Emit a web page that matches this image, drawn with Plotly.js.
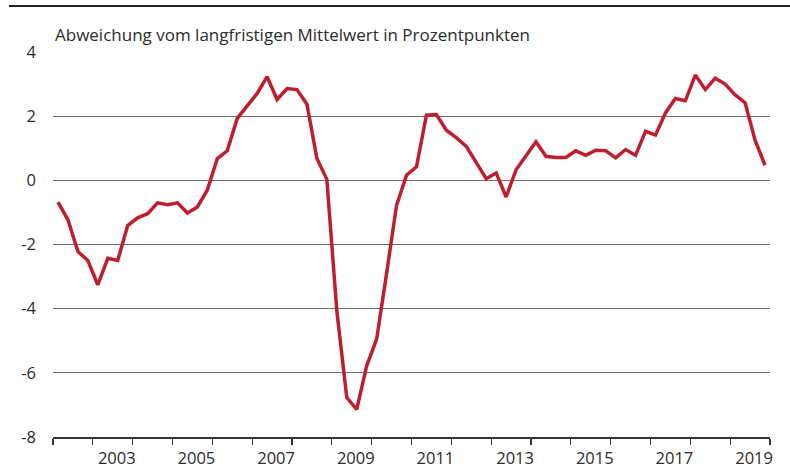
<!DOCTYPE html>
<html>
<head>
<meta charset="utf-8">
<script src="https://cdn.plot.ly/plotly-3.0.1.min.js"></script>
<style>html,body{margin:0;padding:0;background:#fff;}#chart{width:790px;height:470px;}</style>
</head>
<body>
<div id="chart"></div>
<script>
// Quarterly data, 2002 Q1 - 2019 Q4
const startYear = 2002;
const values = [
  -0.68, -1.23, -2.22, -2.50, -3.26, -2.43, -2.50, -1.41,
  -1.17, -1.04, -0.70, -0.76, -0.70, -1.02, -0.83, -0.30,
   0.68,  0.92,  1.93,  2.34,  2.71,  3.23,  2.52,  2.86,
   2.83,  2.37,  0.68,  0.03, -4.06, -6.77, -7.14, -5.78,
  -4.95, -2.90, -0.78,  0.16,  0.42,  2.03,  2.05,  1.56,
   1.33,  1.06,  0.57,  0.05,  0.23, -0.52,  0.33,  0.75,
   1.20,  0.75,  0.71,  0.71,  0.92,  0.78,  0.94,  0.92,
   0.70,  0.96,  0.78,  1.53,  1.41,  2.10,  2.55,  2.48,
   3.28,  2.83,  3.18,  3.00,  2.66,  2.42,  1.25,  0.47
];
const yTicks = [-8, -6, -4, -2, 0, 2, 4];
const yTickLabels = ["-8", "-6", "-4", "-2", "0", "2", "4"];
const xLabelYears = [2003, 2005, 2007, 2009, 2011, 2013, 2015, 2017, 2019];
const titleText = "Abweichung vom langfristigen Mittelwert in Prozentpunkten";

// quarter midpoints as decimal years
const xs = values.map((v, i) => startYear + (i + 0.5) / 4);
const endYear = startYear + values.length / 4;
const yearBoundaries = [];
for (let y = startYear; y <= endYear; y++) yearBoundaries.push(y);

const FONT = "'Open Sans', 'Noto Sans', sans-serif";
const TXT = "#2b2b2b";

const trace = {
  x: xs, y: values, type: "scatter", mode: "lines",
  line: {color: "#bf1e2e", width: 3.5},
  hoverinfo: "skip", showlegend: false
};
const labelTrace = {x: [xs[0]], y: [values[0]], xaxis: "x2", type: "scatter", mode: "none", showlegend: false, hoverinfo: "skip"};

const layout = {
  width: 790, height: 470,
  margin: {l: 53, r: 20, t: 52, b: 33},
  paper_bgcolor: "#ffffff", plot_bgcolor: "#ffffff",
  font: {family: FONT, size: 16, color: TXT},
  title: {
    text: titleText, font: {family: FONT, size: 17, color: TXT},
    xref: "container", yref: "container", x: 55/790, xanchor: "left",
    y: 1 - 35/470, yanchor: "middle"
  },
  xaxis: {
    range: [startYear, endYear], tickmode: "array", tickvals: yearBoundaries,
    ticktext: yearBoundaries.map(() => ""), ticks: "outside", ticklen: 6,
    tickcolor: "#333", tickwidth: 1.3, showgrid: false, zeroline: false,
    showline: true, linecolor: "#333", linewidth: 1.5, fixedrange: true
  },
  xaxis2: {
    overlaying: "x", anchor: "y", side: "bottom",
    range: [startYear, endYear], tickmode: "array",
    tickvals: xLabelYears.map(y => y + 0.5), ticktext: xLabelYears.map(String),
    ticks: "", ticklabelshift: 4, ticklabelstandoff: 9, showgrid: false, zeroline: false, showline: false,
    tickfont: {family: FONT, size: 16.5, color: TXT}, fixedrange: true
  },
  yaxis: {
    range: [-8, 4], tickmode: "array", tickvals: yTicks, ticktext: yTickLabels,
    ticks: "", showgrid: true, gridcolor: "#6e6e6e", gridwidth: 1.3,
    zeroline: false, showline: false, ticklabelstandoff: 16,
    tickfont: {family: FONT, size: 16.5, color: TXT}, fixedrange: true
  },
  shapes: [{
    type: "line", xref: "paper", yref: "paper",
    x0: (9 - 53) / 717, x1: (790 - 53) / 717,
    y0: (437 - 6) / 385, y1: (437 - 6) / 385,
    line: {color: "#222222", width: 2.2}
  }]
};

Plotly.newPlot("chart", [trace, labelTrace], layout, {displayModeBar: false, staticPlot: true});
</script>
</body>
</html>
